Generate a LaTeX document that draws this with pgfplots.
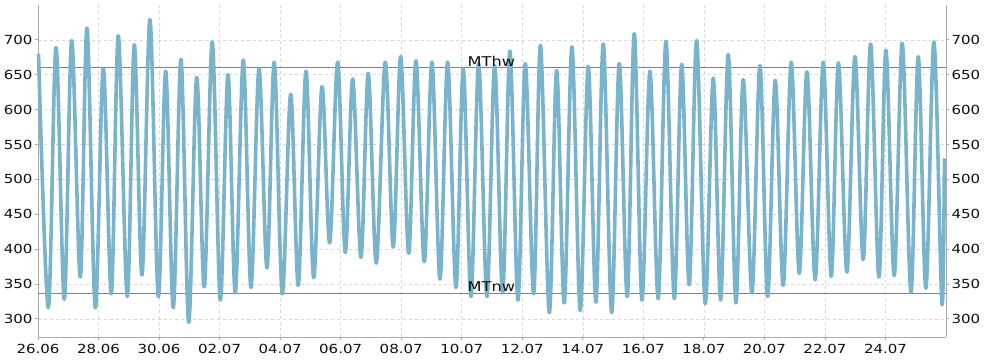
\documentclass[border=0pt]{standalone}
\usepackage{fontspec}
\usepackage{pgfplots}
\pgfplotsset{compat=1.18}
\usetikzlibrary{calc}
\newfontfamily\tickfont[FakeStretch=1.2]{DejaVu Sans}
\definecolor{tide}{RGB}{122,179,204}
\definecolor{axgray}{RGB}{170,170,170}
\definecolor{gridgray}{RGB}{215,215,215}
\definecolor{refline}{RGB}{130,130,130}
\definecolor{txt}{RGB}{15,15,15}
\begin{document}
\begin{tikzpicture}
\pgfplotsset{
  common/.style={
    scale only axis, width=908bp, height=332bp,
    xmin=0, xmax=30, ymin=274, ymax=750,
    ytick={300,350,...,700},
    tick align=outside, major tick length=3bp,
    tick style={draw=axgray, line width=0.8bp},
    /pgf/number format/assume math mode=true,
    tick label style={font=\tickfont\fontsize{12.5bp}{14bp}\selectfont, text=txt},
  }
}
\begin{axis}[common, name=ax,
  axis x line*=bottom, axis y line*=left,
  axis line style={draw=axgray, line width=1bp},
  xtick={0,2,...,28},
  xticklabels={26.06,28.06,30.06,02.07,04.07,06.07,08.07,10.07,12.07,14.07,16.07,18.07,20.07,22.07,24.07},
  xticklabel style={yshift=-1bp},
  yticklabel style={xshift=1bp},
  grid=major,
  grid style={draw=gridgray, dashed, line width=0.6bp},
  clip=false,
]
\addplot[refline, line width=1bp, forget plot] coordinates {(0,660) (30,660)};
\addplot[refline, line width=1bp, forget plot] coordinates {(0,337) (30,337)};
\addplot[tide, line width=3.6bp, smooth, tension=0.55, line join=round] table[row sep=\\] {
x y\\
0.017 680\\
0.340 316\\
0.595 689\\
0.869 328\\
1.113 699\\
1.397 360\\
1.619 717\\
1.893 316\\
2.157 659\\
2.422 336\\
2.653 706\\
2.950 332\\
3.181 693\\
3.436 363\\
3.700 729\\
3.974 332\\
4.219 655\\
4.470 316\\
4.724 672\\
4.979 295\\
5.243 646\\
5.494 346\\
5.758 697\\
6.023 327\\
6.277 650\\
6.518 337\\
6.782 671\\
7.037 345\\
7.301 659\\
7.565 373\\
7.806 668\\
8.071 336\\
8.348 622\\
8.599 348\\
8.854 655\\
9.108 359\\
9.382 633\\
9.637 409\\
9.901 668\\
10.152 395\\
10.397 644\\
10.671 388\\
10.912 652\\
11.176 380\\
11.474 668\\
11.738 403\\
11.982 676\\
12.247 394\\
12.488 670\\
12.762 382\\
13.016 668\\
13.281 357\\
13.535 668\\
13.809 345\\
14.050 659\\
14.305 332\\
14.559 666\\
14.833 332\\
15.088 663\\
15.352 337\\
15.593 684\\
15.857 327\\
16.099 666\\
16.376 336\\
16.601 692\\
16.892 309\\
17.136 656\\
17.387 323\\
17.641 690\\
17.916 312\\
18.180 662\\
18.434 324\\
18.676 694\\
18.953 309\\
19.204 666\\
19.468 332\\
19.700 709\\
19.954 327\\
20.218 655\\
20.492 329\\
20.747 698\\
21.021 329\\
21.266 665\\
21.517 349\\
21.761 699\\
22.045 322\\
22.310 645\\
22.554 327\\
22.805 679\\
23.059 323\\
23.300 643\\
23.588 337\\
23.852 663\\
24.106 332\\
24.358 642\\
24.622 348\\
24.886 668\\
25.151 365\\
25.405 654\\
25.679 356\\
25.944 668\\
26.208 361\\
26.446 667\\
26.726 367\\
26.991 676\\
27.265 385\\
27.509 694\\
27.784 360\\
28.015 685\\
28.289 362\\
28.554 695\\
28.841 338\\
29.082 676\\
29.336 344\\
29.601 697\\
29.865 322\\
29.947 530\\
};
\coordinate (hw) at (axis cs:14.98,660);
\coordinate (nw) at (axis cs:14.98,337);
\end{axis}
\begin{axis}[common,
  hide x axis,
  axis y line*=right,
  axis line style={draw=axgray, line width=1bp},
  yticklabel pos=right,
  yticklabel style={xshift=-1bp},
]
\addplot[draw=none, forget plot] coordinates {(0,500) (30,500)};
\end{axis}
\node[anchor=south, font=\tickfont\fontsize{13.5bp}{15bp}\selectfont, text=txt, inner sep=1.5bp] at (hw) {MThw};
\node[anchor=south, font=\tickfont\fontsize{13.5bp}{15bp}\selectfont, text=txt, inner sep=1.5bp] at (nw) {MTnw};
\pgfresetboundingbox
\useasboundingbox ($(ax.south west)+(-38bp,-23bp)$) rectangle ($(ax.north east)+(44bp,5bp)$);
\end{tikzpicture}
\end{document}
